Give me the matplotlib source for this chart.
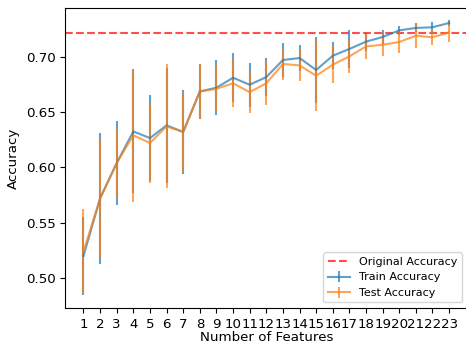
import matplotlib
matplotlib.use('Agg')
import matplotlib.pyplot as plt
import numpy as np

plt.rcParams['font.size'] = 9.6

# number of features used
n_features = list(range(1, 24))

train_acc = [0.520, 0.572, 0.604, 0.6325, 0.6265, 0.638, 0.632, 0.6686, 0.672, 0.681, 0.6747, 0.6816,
             0.697, 0.6988, 0.688, 0.7009, 0.707, 0.7136, 0.7178, 0.7238, 0.726, 0.7266, 0.7305]
train_std = [0.035, 0.059, 0.038, 0.056, 0.039, 0.052, 0.038, 0.025, 0.025, 0.022, 0.020, 0.0175,
             0.015, 0.012, 0.0296, 0.012, 0.017, 0.008, 0.006, 0.004, 0.004, 0.005, 0.0025]

test_acc = [0.524, 0.572, 0.604, 0.629, 0.622, 0.637, 0.632, 0.6686, 0.671, 0.676, 0.668, 0.676,
            0.6934, 0.6922, 0.6828, 0.6928, 0.7003, 0.7093, 0.7108, 0.7133, 0.719, 0.7175, 0.722]
test_std = [0.038, 0.053, 0.031, 0.060, 0.036, 0.056, 0.035, 0.025, 0.021, 0.021, 0.019, 0.020,
            0.014, 0.014, 0.032, 0.017, 0.015, 0.011, 0.010, 0.010, 0.011, 0.007, 0.009]

original_acc = 0.7217

fig = plt.figure(figsize=(4.66, 3.48), dpi=100)
ax = fig.add_axes([65.2 / 466, 40 / 348, 402.2 / 466, 300 / 348])

ax.axhline(original_acc, color='red', linestyle='--', alpha=0.7, label='Original Accuracy')
ax.errorbar(n_features, train_acc, yerr=train_std, label='Train Accuracy', alpha=0.7)
ax.errorbar(n_features, test_acc, yerr=test_std, label='Test Accuracy', alpha=0.7)

ax.set_xticks(n_features)
ax.set_xlabel('Number of Features', labelpad=0.5)
ax.set_ylabel('Accuracy')
ax.set_ylim(0.473, 0.744)
ax.legend(loc='lower right', fontsize=8)

fig.savefig('out.png', dpi=100)
